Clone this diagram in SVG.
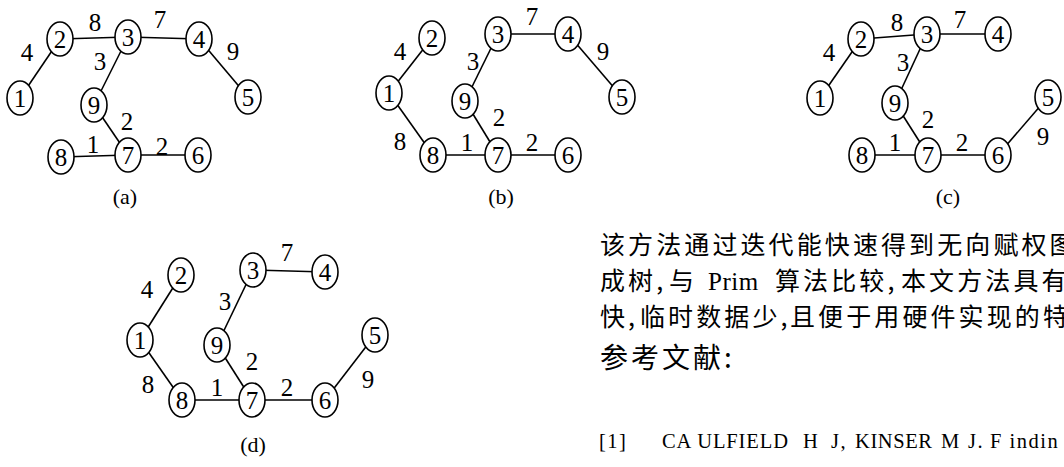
<svg xmlns="http://www.w3.org/2000/svg" width="1064" height="467" viewBox="0 0 1064 467">
<style>
.e line{stroke:#000;stroke-width:1.6}
.n ellipse{fill:#fff;stroke:#000;stroke-width:1.6}
.n text,.w,.cap{font-family:"Liberation Serif",serif;font-size:25px;text-anchor:middle;fill:#000}
.cap{font-size:22px}
.cjk{font-family:"Noto Sans CJK SC",sans-serif;font-size:25px;letter-spacing:3.1px;fill:#000}
.ser{font-family:"Liberation Serif",serif;font-size:25px;letter-spacing:0.5px}
.ref{font-family:"Liberation Serif",serif;font-size:20.5px;fill:#000;letter-spacing:1.5px}
</style>
<rect width="1064" height="467" fill="#fff"/>

<!-- Panel (a) -->
<g id="conn-a" class="e">
<line x1="20" y1="98" x2="60" y2="39"/>
<line x1="60" y1="39" x2="128" y2="37"/>
<line x1="128" y1="37" x2="199" y2="39"/>
<line x1="199" y1="39" x2="248" y2="97"/>
<line x1="128" y1="37" x2="94" y2="105"/>
<line x1="94" y1="105" x2="128" y2="155"/>
<line x1="61" y1="157" x2="128" y2="155"/>
<line x1="128" y1="155" x2="198" y2="155"/>
</g>
<g id="wts-a">
<text class="w" x="27" y="61">4</text>
<text class="w" x="95" y="31">8</text>
<text class="w" x="160" y="28">7</text>
<text class="w" x="233" y="60">9</text>
<text class="w" x="100" y="70">3</text>
<text class="w" x="127" y="130">2</text>
<text class="w" x="93" y="153">1</text>
<text class="w" x="162" y="155">2</text>
</g>
<g id="a1" class="n"><ellipse cx="20" cy="98" rx="13" ry="17"/><text x="20" y="106.5">1</text></g>
<g id="a2" class="n"><ellipse cx="60" cy="39" rx="13" ry="17"/><text x="60" y="47.5">2</text></g>
<g id="a3" class="n"><ellipse cx="128" cy="37" rx="13" ry="17"/><text x="128" y="45.5">3</text></g>
<g id="a4" class="n"><ellipse cx="199" cy="39" rx="13" ry="17"/><text x="199" y="47.5">4</text></g>
<g id="a5" class="n"><ellipse cx="248" cy="97" rx="13" ry="17"/><text x="248" y="105.5">5</text></g>
<g id="a9" class="n"><ellipse cx="94" cy="105" rx="13" ry="17"/><text x="94" y="113.5">9</text></g>
<g id="a8" class="n"><ellipse cx="61" cy="157" rx="13" ry="17"/><text x="61" y="165.5">8</text></g>
<g id="a7" class="n"><ellipse cx="128" cy="155" rx="13" ry="17"/><text x="128" y="163.5">7</text></g>
<g id="a6" class="n"><ellipse cx="198" cy="155" rx="13" ry="17"/><text x="198" y="163.5">6</text></g>
<text class="cap" x="125" y="204">(a)</text>

<!-- Panel (b) -->
<g id="conn-b" class="e">
<line x1="389" y1="93" x2="432" y2="38"/>
<line x1="389" y1="93" x2="433" y2="155"/>
<line x1="498" y1="34" x2="568" y2="34"/>
<line x1="568" y1="34" x2="622" y2="97"/>
<line x1="498" y1="34" x2="465" y2="101"/>
<line x1="465" y1="101" x2="498" y2="155"/>
<line x1="433" y1="155" x2="498" y2="155"/>
<line x1="498" y1="155" x2="568" y2="155"/>
</g>
<g id="wts-b">
<text class="w" x="400" y="60">4</text>
<text class="w" x="400" y="150">8</text>
<text class="w" x="532" y="25">7</text>
<text class="w" x="603" y="60">9</text>
<text class="w" x="473" y="70">3</text>
<text class="w" x="499" y="126">2</text>
<text class="w" x="467" y="151">1</text>
<text class="w" x="532" y="151">2</text>
</g>
<g id="b1" class="n"><ellipse cx="389" cy="93" rx="13" ry="17"/><text x="389" y="101.5">1</text></g>
<g id="b2" class="n"><ellipse cx="432" cy="38" rx="13" ry="17"/><text x="432" y="46.5">2</text></g>
<g id="b3" class="n"><ellipse cx="498" cy="34" rx="13" ry="17"/><text x="498" y="42.5">3</text></g>
<g id="b4" class="n"><ellipse cx="568" cy="34" rx="13" ry="17"/><text x="568" y="42.5">4</text></g>
<g id="b5" class="n"><ellipse cx="622" cy="97" rx="13" ry="17"/><text x="622" y="105.5">5</text></g>
<g id="b9" class="n"><ellipse cx="465" cy="101" rx="13" ry="17"/><text x="465" y="109.5">9</text></g>
<g id="b8" class="n"><ellipse cx="433" cy="155" rx="13" ry="17"/><text x="433" y="163.5">8</text></g>
<g id="b7" class="n"><ellipse cx="498" cy="155" rx="13" ry="17"/><text x="498" y="163.5">7</text></g>
<g id="b6" class="n"><ellipse cx="568" cy="155" rx="13" ry="17"/><text x="568" y="163.5">6</text></g>
<text class="cap" x="501" y="204">(b)</text>

<!-- Panel (c) -->
<g id="conn-c" class="e">
<line x1="820" y1="98" x2="861" y2="39"/>
<line x1="861" y1="39" x2="927" y2="34"/>
<line x1="927" y1="34" x2="998" y2="34"/>
<line x1="927" y1="34" x2="895" y2="103"/>
<line x1="895" y1="103" x2="928" y2="155"/>
<line x1="862" y1="155" x2="928" y2="155"/>
<line x1="928" y1="155" x2="998" y2="155"/>
<line x1="998" y1="155" x2="1048" y2="97"/>
</g>
<g id="wts-c">
<text class="w" x="829" y="61">4</text>
<text class="w" x="897" y="31">8</text>
<text class="w" x="960" y="28">7</text>
<text class="w" x="903" y="71">3</text>
<text class="w" x="928" y="128">2</text>
<text class="w" x="895" y="151">1</text>
<text class="w" x="962" y="151">2</text>
<text class="w" x="1043" y="145">9</text>
</g>
<g id="c1" class="n"><ellipse cx="820" cy="98" rx="13" ry="17"/><text x="820" y="106.5">1</text></g>
<g id="c2" class="n"><ellipse cx="861" cy="39" rx="13" ry="17"/><text x="861" y="47.5">2</text></g>
<g id="c3" class="n"><ellipse cx="927" cy="34" rx="13" ry="17"/><text x="927" y="42.5">3</text></g>
<g id="c4" class="n"><ellipse cx="998" cy="34" rx="13" ry="17"/><text x="998" y="42.5">4</text></g>
<g id="c5" class="n"><ellipse cx="1048" cy="97" rx="13" ry="17"/><text x="1048" y="105.5">5</text></g>
<g id="c9" class="n"><ellipse cx="895" cy="103" rx="13" ry="17"/><text x="895" y="111.5">9</text></g>
<g id="c8" class="n"><ellipse cx="862" cy="155" rx="13" ry="17"/><text x="862" y="163.5">8</text></g>
<g id="c7" class="n"><ellipse cx="928" cy="155" rx="13" ry="17"/><text x="928" y="163.5">7</text></g>
<g id="c6" class="n"><ellipse cx="998" cy="155" rx="13" ry="17"/><text x="998" y="163.5">6</text></g>
<text class="cap" x="948" y="204">(c)</text>

<!-- Panel (d) -->
<g id="conn-d" class="e">
<line x1="140" y1="340" x2="181" y2="275"/>
<line x1="140" y1="340" x2="182" y2="400"/>
<line x1="253" y1="270" x2="325" y2="272"/>
<line x1="253" y1="270" x2="217" y2="345"/>
<line x1="217" y1="345" x2="252" y2="400"/>
<line x1="182" y1="400" x2="252" y2="400"/>
<line x1="252" y1="400" x2="325" y2="400"/>
<line x1="325" y1="400" x2="375" y2="335"/>
</g>
<g id="wts-d">
<text class="w" x="147" y="298">4</text>
<text class="w" x="148" y="393">8</text>
<text class="w" x="287" y="261">7</text>
<text class="w" x="225" y="310">3</text>
<text class="w" x="252" y="370">2</text>
<text class="w" x="217" y="396">1</text>
<text class="w" x="287" y="396">2</text>
<text class="w" x="368" y="388">9</text>
</g>
<g id="d1" class="n"><ellipse cx="140" cy="340" rx="13" ry="17"/><text x="140" y="348.5">1</text></g>
<g id="d2" class="n"><ellipse cx="181" cy="275" rx="13" ry="17"/><text x="181" y="283.5">2</text></g>
<g id="d3" class="n"><ellipse cx="253" cy="270" rx="13" ry="17"/><text x="253" y="278.5">3</text></g>
<g id="d4" class="n"><ellipse cx="325" cy="272" rx="13" ry="17"/><text x="325" y="280.5">4</text></g>
<g id="d5" class="n"><ellipse cx="375" cy="335" rx="13" ry="17"/><text x="375" y="343.5">5</text></g>
<g id="d9" class="n"><ellipse cx="217" cy="345" rx="13" ry="17"/><text x="217" y="353.5">9</text></g>
<g id="d8" class="n"><ellipse cx="182" cy="400" rx="13" ry="17"/><text x="182" y="408.5">8</text></g>
<g id="d7" class="n"><ellipse cx="252" cy="400" rx="13" ry="17"/><text x="252" y="408.5">7</text></g>
<g id="d6" class="n"><ellipse cx="325" cy="400" rx="13" ry="17"/><text x="325" y="408.5">6</text></g>
<text class="cap" x="253" y="452">(d)</text>

<!-- Text block -->
<text class="cjk" x="600" y="254">该方法通过迭代能快速得到无向赋权图</text>
<text class="cjk" y="290"><tspan x="600">成树,</tspan><tspan x="669">与</tspan><tspan x="708" class="ser">Prim</tspan><tspan x="775">算法比较,</tspan><tspan x="901">本文方法具有</tspan></text>
<text class="cjk" y="326"><tspan x="600">快,</tspan><tspan x="640">临时数据少,</tspan><tspan x="790">且便于用硬件实现的特</tspan></text>
<text class="cjk" x="600" y="368" style="font-size:28px;letter-spacing:3px">参考文献:</text>
<text class="ref" y="448"><tspan x="599">[1]</tspan><tspan x="662" style="letter-spacing:0.9px">CA ULFIELD</tspan><tspan x="803">H</tspan><tspan x="831">J,</tspan><tspan x="855" style="letter-spacing:0.6px">KINSER</tspan><tspan x="941">M</tspan><tspan x="968">J.</tspan><tspan x="990">F indin</tspan></text>
</svg>
